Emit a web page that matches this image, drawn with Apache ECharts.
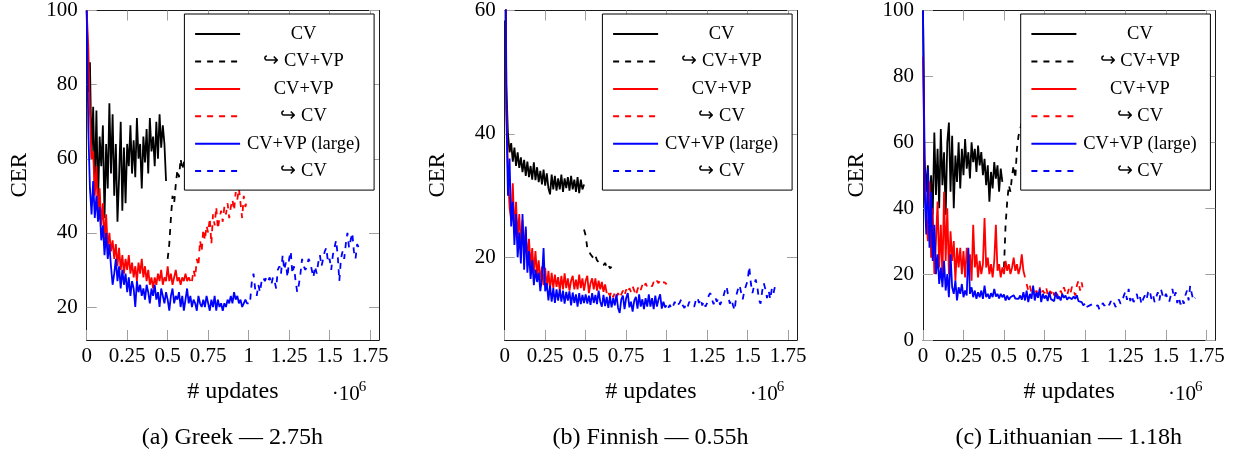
<!DOCTYPE html>
<html><head><meta charset="utf-8">
<script src="https://cdn.jsdelivr.net/npm/echarts@6/dist/echarts.min.js"></script>
<style>html,body{margin:0;padding:0;background:#fff}#c{width:1233px;height:455px}</style>
</head><body><div id="c"></div><script>
// ---- tick labels / categories ----
const xTicks = [0, 0.25, 0.5, 0.75, 1, 1.25, 1.5, 1.75];
const yTicksA = [20, 40, 60, 80, 100];
const yTicksB = [20, 40, 60];
const yTicksC = [0, 20, 40, 60, 80, 100];
const captions = ['(a) Greek — 2.75h', '(b) Finnish — 0.55h', '(c) Lithuanian — 1.18h'];
const legendLabels = {cv: 'CV', cv2vp: '↪ CV+VP', vp: 'CV+VP', vp2cv: '↪ CV', lg: 'CV+VP (large)', lg2cv: '↪ CV'};
const step = 0.01; // sampling step of updates (×10^6)

// ---- (a) Greek ----
const a_cv = [100,78,86,60,74,52,73,48,66,58, 69,44,64,52,75,56,72,50,64,43, 55,70,46,63,48,64,58,69,56,65, 55,71,60,64,52,66,59,68,56,71, 62,66,58,70,60,72,63,69,64,54];
const a_cv2vp = [33,37,44,50,48,53,57,55,60,57,59,61,58,62,60,63];
const a_vp = [100,90,72,60,62,50,58,44,52,42, 48,38,45,36,40,35,38,33,37,31, 36,30,34,29,33,30,34,29,32,28, 31,27,32,29,33,28,31,27,30,26, 28,25,28,26,29,27,30,26,28,27, 31,27,29,26,28,30,27,28,26,28, 27,29,27,28,27];
const a_vp2cv = [27,30,28,33,31,38,35,41,38,42, 40,44,37,45,42,47,41,44,46,43, 47,45,48,44,47,49,46,51,49,52, 48,44,50,47,49];
const a_lg = [100,68,52,45,54,44,50,43,47,38, 42,34,40,33,37,31,26,29,33,27, 31,25,30,26,29,24,28,23,27,25, 20,27,24,26,23,25,22,26,24,21, 25,23,26,22,24,20,25,23,21,24, 22,19,23,25,21,23,22,24,20,23, 19,22,25,21,23,20,22,21,19,23, 21,20,22,20,23,21,19,22,20,23, 19,22,20,21,19,21,20,22,21,23, 21,24,22,23,21,22,20,21,22,21, 21];
const a_lg2cv = [22,27,29,25,23,26,24,27,28,27, 28,27,28,26,28,27,25,30,31,29, 34,30,32,28,33,35,29,31,27,24, 26,29,33,31,30,31,33,32,30,28, 31,29,32,34,31,33,35,36,32,33, 30,34,36,38,34,27,33,35,33,37, 40,36,38,40,35,33,37,36];

// ---- (b) Finnish ----
const b_cv = [100,48,40,37,38.5,35.5,37.8,34.8,37,34.5, 36.2,33.8,35.8,33.2,35.5,33,34.8,32.6,35.4,32.5, 34.6,32.2,34,31.8,34.2,31.6,33.6,31.2,30.2,33.4, 31,33.2,30.8,32.8,31,33.4,30.6,32.8,31.2,33, 30.8,33.2,31,32.6,30.6,33,30.4,32.6,31,31.8];
const b_cv2vp = [24.5,23.5,21.5,21,20.5,20.8,19.8,20.3,19.5,19.8,19,19.3,18.7,19.1,18.4,18.8,18.2,18.5];
const b_vp = [100,45,34,28,26,32,24,29,23,27, 22,26,21,24.5,19.5,23,18.5,21.5,17.5,21, 17,19.5,16,18.5,15.5,18.3,15,17.8,14.8,17.5, 15,17.2,15.2,16.8,14.6,17,14.8,17.4,15,16.6, 14.6,16.2,17,14.8,16.4,14.8,17.2,15,16.6,14.6, 16.2,17,14.2,15.8,16.6,14.8,16.6,14.6,16.2,14.8, 16,14.4,15.6,14.2];
const b_vp2cv = [14.2,13.8,14.5,13.5,14.3,13.6,14.2,13.4,14,14.6, 13.8,14.8,14.2,15,14.4,15.3,14.6,13.8,14.8,15.4, 14.7,15.5,15,15.8,15.2,15.6,15.9,15.3,16,15.6, 16.2,15.8,16.4,16,15.7,15.9,15.6];
const b_lg = [100,44,30,36,25,29,22,27,20,24, 19,27,18,25,17.5,21,16.5,19.5,15.5,18, 16,17.5,14.5,16.5,21.5,14.5,15.8,13,15.4,12.8, 15,12.6,14.8,13,14.8,12.8,14.6,12.5,14.4,13, 14.5,12.2,14.3,12.6,14,12,14.2,12.4,13.9,12.6, 14,12.5,13.8,12.3,14.2,12.6,13.9,12.4,14.6,12.8, 12,13.9,12.1,13.6,11.8,13.7,11.9,13.4,12.2,14, 11.8,11,13.2,13.8,11.6,13.4,14.2,11.9,12.8,11.2, 13,13.6,11.7,14,12,13.2,11.6,13.4,12,14, 12,13.4,11.6,13.8,12,13.2,14,11.7,12.8,11.9, 12.2];
const b_lg2cv = [11.8,12.3,11.6,12.1,12.8,12,11.7,12.6,13.2,12.2, 11.8,12.5,12,12.8,12.3,12.6,12,13,13.5,12.6, 13.3,12.2,12.9,12,12.6,13.8,14.2,13.2,12.4,13.5, 12.8,13.4,12.3,12.9,13.6,14.6,15.3,13.8,12.5,13.2, 12.2,11.4,13.8,14.8,15.5,14.3,13.2,14.6,15.4,16.2, 18.5,15.8,14.2,15.4,16.4,15.2,13.1,12.5,14.5,15.8, 14.8,13.4,14.6,13.2,15,14.2,15.4,15];

// ---- (c) Lithuanian ----
const c_cv = [100,55,45,53,40,50,38,63,44,58, 40,64,47,57,38,60,66,45,62,40, 56,48,60,46,58,50,61,52,57,49, 60,54,58,51,59,53,57,50,55,47, 53,42,51,46,54,49,53,45,52,48];
const c_cv2vp = [22,35,42,47,45,50,53,49,58,62,64,66,63];
const c_vp = [86,50,38,30,48,25,40,20,30,42, 22,35,19,45,24,40,20,33,24,30, 18,28,22,28,20,27,19,28,21,26, 18,35,22,26,19,24,20,23,37,22, 25,20,23,19,24,35,21,23,19,22, 20,24,21,23,20,22,25,21,23,20, 22,26,21,19];
const c_vp2cv = [17,15,16.5,14,15.5,13.5,15,14,16,13.5, 15,14.2,16,13.8,15.2,14,15.5,13.5,15,14.5, 12.5,15,13.8,16,14.5,13.5,15.5,14,16.2,15, 13.5,16.5,18,15,17.5,14.5];
const c_lg = [100,45,32,52,28,45,24,35,20,26, 17,22,16,24,15,20,13,26,16,14, 18,12,16,14,17,13,15,13.5,28,14, 16,13,15,12.5,14.5,13,15,12.5,16.5,13, 14,12.5,14.2,13,15.5,13.2,14,12.6,14,13, 13.8,12,13.5,12.2,13,12.4,13.6,12.6,13.2,12.5, 13.5,12.2,14.5,12,15,11.5,14,12.5,16.5,12, 14.5,12.8,15.5,11.5,14,12.6,13.5,11.8,14.5,12.4, 13,11.8,14.6,12.5,13.2,12,14,12.8,13.5,12.2, 13,13.5,12.4,13.2,12.5,13.6,11.8,12.4,11.5,10.5, 11];
const c_lg2cv = [10,9.5,10.5,10,11,10.2,9.8,10.5,9.2,10, 11.2,10.4,9.8,11.5,10.6,11.8,10.5,11.2,10,11.5, 12.3,11,12,11.5,14.8,12.2,15.5,11.8,13.5,11.5, 12.5,14,11.8,13,10.8,12.5,13.5,12.2,14.5,15.2, 12.5,13.8,11.5,13,14.5,12,15.3,13.5,12.5,14, 12.8,11.5,13.5,15.5,12.8,14.5,11.2,13,10.8,12.5, 11,13.5,15,12,16.5,14,12,12.8];

const FONT = 'Liberation Serif';
const GT = 6.7, GH = 333.3, GW = 292.3, XMAX = 1.805;
const panels = [
  {left: 86.7, ymin: 11.1, ymax: 100, yTicks: yTicksA,
   s: {cv: [0, a_cv], cv2vp: [0.5, a_cv2vp], vp: [0, a_vp], vp2cv: [0.65, a_vp2cv], lg: [0, a_lg], lg2cv: [1.01, a_lg2cv]}},
  {left: 504.7, ymin: 6.6, ymax: 60, yTicks: yTicksB,
   s: {cv: [0, b_cv], cv2vp: [0.49, b_cv2vp], vp: [0, b_vp], vp2cv: [0.64, b_vp2cv], lg: [0, b_lg], lg2cv: [1.01, b_lg2cv]}},
  {left: 923, ymin: 0, ymax: 100, yTicks: yTicksC,
   s: {cv: [0, c_cv], cv2vp: [0.5, c_cv2vp], vp: [0, c_vp], vp2cv: [0.64, c_vp2cv], lg: [0, c_lg], lg2cv: [1.01, c_lg2cv]}}
];
const styles = {
  cv: {color: '#000000', type: 'solid'}, cv2vp: {color: '#000000', type: [6, 6]},
  vp: {color: '#ff0000', type: 'solid'}, vp2cv: {color: '#ff0000', type: [6, 6]},
  lg: {color: '#0000ff', type: 'solid'}, lg2cv: {color: '#0000ff', type: [6, 6]}
};
const order = ['cv', 'cv2vp', 'vp', 'vp2cv', 'lg', 'lg2cv'];

function pts(x0, vals) { return vals.map((v, i) => [+(x0 + i * step).toFixed(4), v]); }

const grid = [], xAxis = [], yAxis = [], series = [], legend = [], graphic = [];
const tickStyle = {show: true, inside: true, length: 10, lineStyle: {color: '#a0a0a0', width: 1}};
const lineStyleAxis = {show: true, onZero: false, lineStyle: {color: '#1a1a1a', width: 1}};

panels.forEach((p, i) => {
  grid.push({left: p.left, top: GT, width: GW, height: GH, containLabel: false});
  xAxis.push({
    type: 'value', gridIndex: i, position: 'bottom', min: 0, max: XMAX,
    axisLine: lineStyleAxis, axisTick: Object.assign({customValues: xTicks}, tickStyle),
    axisLabel: {customValues: xTicks, fontFamily: FONT, fontSize: 21, color: '#000', margin: 6},
    splitLine: {show: false},
    name: '# updates', nameLocation: 'middle', nameGap: 40,
    nameTextStyle: {fontFamily: FONT, fontSize: 24, color: '#000'}
  });
  xAxis.push({
    type: 'value', gridIndex: i, position: 'top', min: 0, max: XMAX,
    axisLine: lineStyleAxis, axisTick: Object.assign({customValues: xTicks}, tickStyle),
    axisLabel: {show: false}, splitLine: {show: false}
  });
  yAxis.push({
    type: 'value', gridIndex: i, position: 'left', min: p.ymin, max: p.ymax,
    axisLine: lineStyleAxis, axisTick: Object.assign({customValues: p.yTicks}, tickStyle),
    axisLabel: {customValues: p.yTicks, fontFamily: FONT, fontSize: 21, color: '#000', margin: 9},
    splitLine: {show: false},
    name: 'CER', nameLocation: 'middle', nameGap: 55,
    nameTextStyle: {fontFamily: FONT, fontSize: 23, color: '#000'}
  });
  yAxis.push({
    type: 'value', gridIndex: i, position: 'right', min: p.ymin, max: p.ymax,
    axisLine: lineStyleAxis, axisTick: Object.assign({customValues: p.yTicks}, tickStyle),
    axisLabel: {show: false}, splitLine: {show: false}
  });
  order.forEach((k) => {
    const [x0, vals] = p.s[k];
    series.push({
      type: 'line', name: k, xAxisIndex: 2 * i, yAxisIndex: 2 * i,
      data: pts(x0, vals), symbol: 'none', showSymbol: false, clip: true,
      lineStyle: {color: styles[k].color, width: 1.8, type: styles[k].type},
      itemStyle: {color: styles[k].color}, emphasis: {disabled: true}, animation: false
    });
  });
  legend.push({
    orient: 'vertical', left: p.left + 97.7, top: 14, data: order,
    padding: [10.6, 12, 9.5, 9.7], itemWidth: 45, itemHeight: 14, itemGap: 8.4,
    backgroundColor: '#fff', borderColor: '#000', borderWidth: 1, borderRadius: 0,
    selectedMode: false,
    itemStyle: {opacity: 0, borderWidth: 0},
    lineStyle: {width: 2},
    formatter: (n) => '{t|' + legendLabels[n] + '}',
    textStyle: {fontFamily: FONT, fontSize: 18.5, color: '#000',
      rich: {t: {width: 117, align: 'center', fontFamily: FONT, fontSize: 18.5, lineHeight: 18, color: '#000'}}}
  });
  graphic.push({type: 'text', x: p.left + 245, y: 394,
    style: {text: '·10', fontFamily: FONT, fontSize: 21, fill: '#000', align: 'left', verticalAlign: 'middle'}});
  graphic.push({type: 'text', x: p.left + 272, y: 387,
    style: {text: '6', fontFamily: FONT, fontSize: 15, fill: '#000', align: 'left', verticalAlign: 'middle'}});
  graphic.push({type: 'text', x: p.left + 145.7, y: 438,
    style: {text: captions[i], fontFamily: FONT, fontSize: 24, fill: '#000', align: 'center', verticalAlign: 'middle'}});
});

const chart = echarts.init(document.getElementById('c'), null, {renderer: 'canvas'});
chart.setOption({animation: false, backgroundColor: '#fff', grid, xAxis, yAxis, series, legend, graphic});
</script></body></html>
